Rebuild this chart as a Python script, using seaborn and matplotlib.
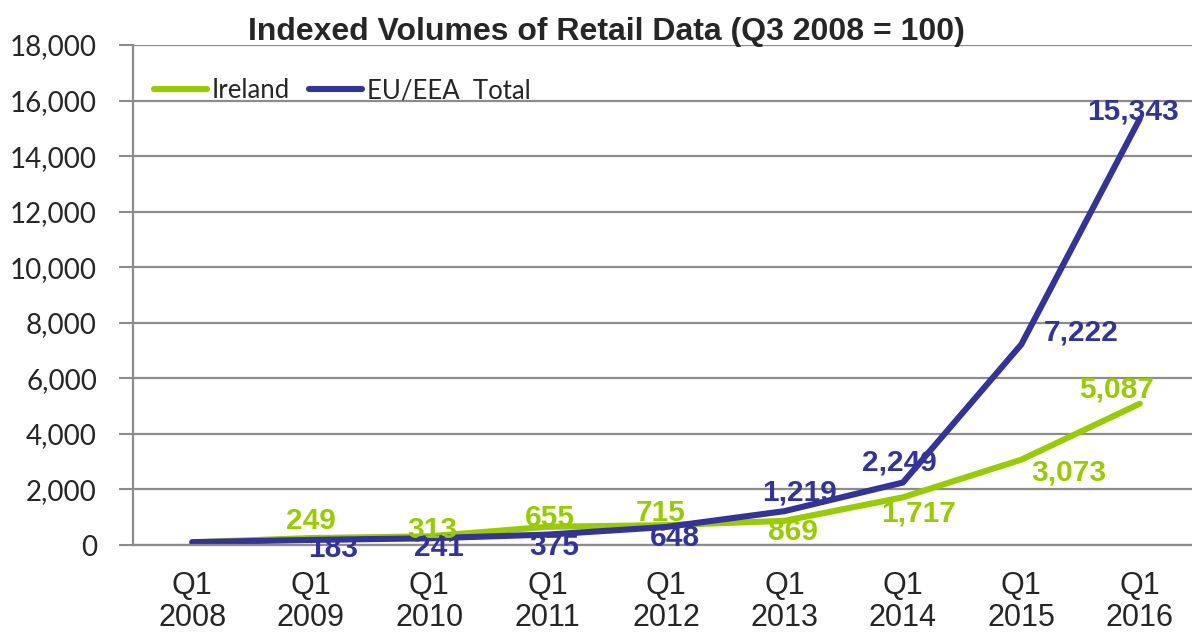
import numpy as np
import pandas as pd
import matplotlib.pyplot as plt
import seaborn as sns

# chart data
quarters = ['Q1\n2008', 'Q1\n2009', 'Q1\n2010', 'Q1\n2011', 'Q1\n2012',
            'Q1\n2013', 'Q1\n2014', 'Q1\n2015', 'Q1\n2016']
ireland = [100, 249, 313, 655, 715, 869, 1717, 3073, 5087]
eu_total = [100, 183, 241, 375, 648, 1219, 2249, 7222, 15343]
series_names = ['Ireland', 'EU/EEA  Total']
show_label = [False, True, True, True, True, True, True, True, True]

# label offsets in pixels (style, not data)
ire_off = [(0, 0), (0, 17), (3, 6), (2, 9), (-5, 12), (8, -11), (16, -16), (48, -13), (-23, 14)]
eu_off = [(0, 0), (22, -9), (10, -10), (7, -12), (9, -11), (15, 19), (-4, 20), (60, 12), (-7, 7)]

green = '#99CC00'
blue = '#333399'
grey = '#8C8C8C'

df = pd.DataFrame({
    'Quarter': quarters * 2,
    'Value': ireland + eu_total,
    'Series': [series_names[0]] * len(quarters) + [series_names[1]] * len(quarters),
})
df['pos'] = list(range(len(quarters))) * 2

sns.set_style('white')
plt.rcParams['font.family'] = ['Liberation Sans', 'DejaVu Sans']

fig = plt.figure(figsize=(11.92, 6.33), dpi=100)
ax = fig.add_axes([133 / 1192, 1 - 545 / 633, 1066 / 1192, 500 / 633])

sns.lineplot(data=df, x='pos', y='Value', hue='Series', palette=[green, blue],
             linewidth=4.4, ax=ax, legend=True, solid_capstyle='round')

ax.set_xlim(-0.5, len(quarters) - 0.5)
ax.set_ylim(0, 18000)
ax.set_yticks(np.arange(0, 18001, 2000))
ax.set_yticklabels([f'{v:,}' for v in range(0, 18001, 2000)],
                   family=['Lato', 'DejaVu Sans'], fontsize=20)
ax.set_xticks(range(len(quarters)))
ax.set_xticklabels(quarters, fontsize=22, linespacing=1.08)
ax.set_xticks(np.arange(-0.5, len(quarters), 1), minor=True)
ax.tick_params(axis='x', which='major', length=0, pad=19)
ax.tick_params(axis='x', which='minor', length=9, width=1.5, color=grey, direction='out')
ax.tick_params(axis='y', length=10, width=1.5, color=grey, direction='out', pad=16, left=True)
ax.set_xlabel('')
ax.set_ylabel('')

ax.yaxis.grid(True, color=grey, linewidth=1.6)
ax.set_axisbelow(True)
for s in ['top', 'right']:
    ax.spines[s].set_visible(False)
for s in ['left', 'bottom']:
    ax.spines[s].set_color(grey)
    ax.spines[s].set_linewidth(1.6)

for i in range(len(quarters)):
    if not show_label[i]:
        continue
    ax.annotate(f'{ireland[i]:,}', (i, ireland[i]), xytext=ire_off[i], textcoords='offset pixels',
                ha='center', va='center', color=green, fontsize=21.5, fontweight='bold')
    ax.annotate(f'{eu_total[i]:,}', (i, eu_total[i]), xytext=eu_off[i], textcoords='offset pixels',
                ha='center', va='center', color=blue, fontsize=21.5, fontweight='bold')

leg = ax.legend(loc='upper left', bbox_to_anchor=(-0.002, 0.98), ncol=2, frameon=False,
                handlelength=2.05, handletextpad=0.2, columnspacing=0.75,
                prop={'family': ['Lato', 'DejaVu Sans'], 'size': 18.5})
leg.set_title(None)

fig.text(606 / 1192, 1 - 32 / 633, 'Indexed Volumes of Retail Data (Q3 2008 = 100)',
         ha='center', va='center', fontsize=23, fontweight='bold')

fig.savefig('out.png', dpi=100)
